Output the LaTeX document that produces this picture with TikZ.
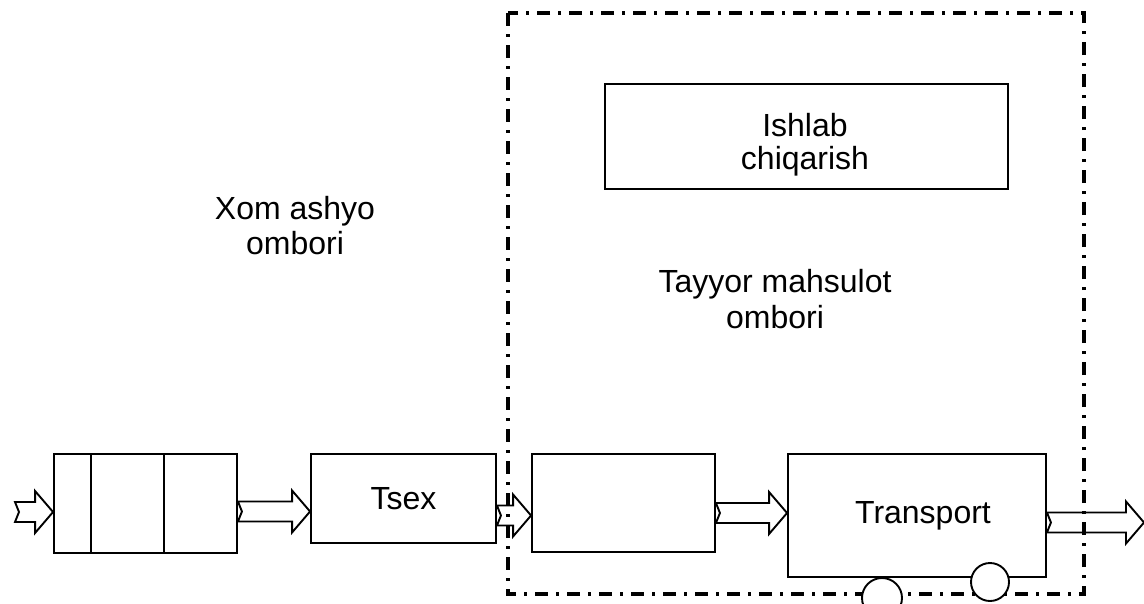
\documentclass[tikz,border=0pt]{standalone}
\usepackage{fontspec}
\setmainfont{Liberation Sans}
\usetikzlibrary{calc}
\begin{document}
\begin{tikzpicture}[x=1pt, y=-1pt, line width=1.9pt,
  blok/.style={draw, fill=white, inner sep=0pt, align=center, font=\fontsize{32}{33}\selectfont},
  matn/.style={inner sep=0pt, align=center, font=\fontsize{32}{35.5}\selectfont},
  gildirak/.style={circle, draw, fill=white, inner sep=0pt},
  hollow/.style={to path={let \p1=(\tikztostart), \p2=(\tikztotarget) in
    (\x1,\y1-10pt) -- (\x1+4pt,\y1) -- (\x1,\y1+10pt) -- (\x2-18pt,\y1+10pt) -- (\x2-18pt,\y1+21pt)
    -- (\x2,\y1) -- (\x2-18pt,\y1-21pt) -- (\x2-18pt,\y1-10pt) -- cycle}}]
\useasboundingbox (0,0) rectangle (1144,603);
\draw[line width=3.6pt, dash pattern=on 13pt off 8pt on 3pt off 8pt] (508,13) rectangle (1084,594);
\node[matn] (xom) at (295,225.5) {Xom ashyo\\ombori};
\node[matn] (tayyor) at (775,299) {Tayyor mahsulot\\ombori};
\node[blok, minimum width=403pt, minimum height=105pt] (ishlab) at (806.5,136.5) {};
\node[matn, font=\fontsize{32}{33}\selectfont] (ishlabmatn) at (805,145) {Ishlab\\chiqarish};
\node[blok, minimum width=183pt, minimum height=99pt] (sklad) at (145.5,503.5) {};
\draw ([xshift=38pt]sklad.north west) -- ([xshift=38pt]sklad.south west);
\draw ([xshift=111pt]sklad.north west) -- ([xshift=111pt]sklad.south west);
\node[blok, minimum width=185pt, minimum height=89pt] (tsex) at (403.5,498.5) {Tsex};
\node[blok, minimum width=183pt, minimum height=98pt] (bosh) at (623.5,503) {};
\node[blok, minimum width=258pt, minimum height=123pt] (transport) at (917,515.5) {\hspace*{12pt}Transport};
\node[gildirak, minimum size=40pt] (g1) at (882,598) {};
\node[gildirak, minimum size=38pt] (g2) at (990,582) {};
\coordinate (kirish) at (15,512);
\coordinate (chiqish) at (1144,522.5);
\draw (kirish) to[hollow] (sklad.west);
\draw ([yshift=-8pt]sklad.east) to[hollow] (tsex.west);
\draw ([yshift=-17pt]tsex.east) to[hollow] (bosh.west);
\draw ([yshift=-10pt]bosh.east) to[hollow] (transport.west);
\draw ([yshift=-7pt]transport.east) to[hollow] (chiqish);
\end{tikzpicture}
\end{document}
